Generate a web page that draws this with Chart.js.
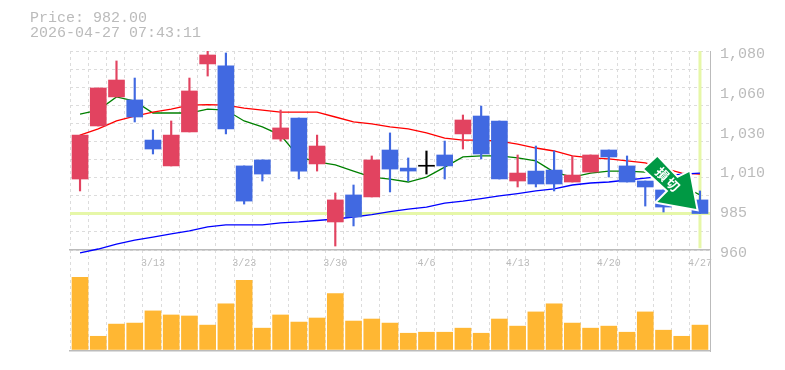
<!DOCTYPE html>
<html>
<head>
<meta charset="utf-8">
<script src="https://cdn.jsdelivr.net/npm/chart.js@4"></script>
<style>
  body { margin: 0; background: #fff; }
  #wrap { position: relative; width: 785px; height: 370px; overflow: hidden; }
  #wrap canvas { position: absolute; left: 0; }
  #head { position: absolute; left: 30px; top: 11px; font: 15px/15px "Liberation Mono", monospace; color: #bbb; white-space: pre; }
</style>
</head>
<body>
<div id="wrap">
  <canvas id="vol" width="785" height="102" style="top:250px"></canvas>
  <canvas id="price" width="785" height="276" style="top:0"></canvas>
  <div id="head">Price: 982.00
2026-04-27 07:43:11</div>
</div>
<script>
const opens  = [1002.8,1034.8,1052.3,1050.5,1026.3,1010.7,1031.2,1072.2,1071,1010.7,1014.3,1026.9,1039.6,1011.9,976.9,993.2,992,1020.3,1009.4,1010.5,1017.3,1030,1040.8,1037.8,1001.6,1007.6,1008.2,1001,1007,1020.3,1010.7,1001.6,996.2,1000.4,990.2];
const closes = [1029.3,1057.7,1062.5,1040.2,1020.9,1029.3,1055.9,1077.6,1033,989.5,1005.8,1033.6,1007.6,1022.7,990.2,979.9,1014.3,1008.8,1007.6,1010.5,1010.7,1038.4,1017.9,1002.8,1006.4,999.8,999.8,1005.2,1017.3,1016.1,1001,998,985.9,992.6,982];
const highs  = [1029.3,1057.7,1074,1063.7,1032.4,1037.8,1063.7,1080.6,1078.8,1010.7,1014.3,1044.4,1039.6,1029.3,994.4,999.2,1016.7,1030.6,1015.5,1019.7,1025.7,1041.4,1046.8,1037.8,1017.3,1022.7,1019.7,1016.7,1017.3,1020.3,1016.7,1001.6,996.2,1003,995.6];
const lows   = [995.6,1034.8,1052.3,1037.2,1017.9,1010.7,1031.2,1064.9,1030,987.7,1001.6,1025.7,1002.8,1007.6,962.4,974.5,992,995,1001.6,1005.8,1002.8,1020.9,1014.9,1002.8,998,998,995.6,1001,1007,1004,1001,986.5,982.9,990,982];

const maShort = [1042,1044.4,1052.3,1049.8,1042.6,1042.6,1042.6,1045,1044.4,1037.8,1034.2,1029.3,1016.1,1013.1,1011.3,1007.6,1004,1002.8,1001,1004,1010,1016.1,1016.7,1016.7,1015.5,1013.7,1007,1004,1006.4,1007.6,1007.6,1007,1005.2,998.6,993.2];
const maMid   = [1029.3,1033,1037.8,1040.8,1043.2,1045,1047.4,1047.7,1047.4,1045.6,1044.4,1043.2,1043.2,1043.2,1040.2,1037.2,1036,1034.2,1033,1030.6,1027.5,1026.3,1026.3,1025.7,1023.9,1021.5,1019.7,1016.7,1015.5,1014.9,1013.7,1012.5,1009.4,1006.4,1005.8];
const maLong  = [958.2,960.6,963.6,966,967.8,969.7,971.5,973.9,975.1,975.1,975.1,976.3,976.9,977.8,978.7,979.9,981.3,983.1,984.7,985.9,988.3,989.5,991,992.6,994,995.6,996.8,999.2,1000.4,1001,1002.2,1003.4,1004.6,1005.8,1006.4];

const volumes = [71,13,25,26,38,34,33,24,45,68,21,34,27,31,55,28,30,26,16,17,17,21,16,30,23,37,45,26,21,23,17,37,19,13,24];

const priceTicks  = [1080,1056,1032,1008,984,960];
const priceLabels = ["1,080","1,060","1,030","1,010","985","960"];
const dateTicks   = [4,9,14,19,24,29,34];
const dateLabels  = ["3/13","3/23","3/30","4/6","4/13","4/20","4/27"];

const lastPrice = 982;
const arrowText = ["損","切"];

const X_MIN = -0.55, X_MAX = 34.55, Y_MIN = 960, Y_MAX = 1080;
const LABEL_SHIFT = 1.8; // price labels sit a little under their value
const GRID = "#dcdcdc", AXIS = "#bbbbbb", TXT = "#bbbbbb";
const UP = "#e24360", DOWN = "#4169e1", DOJI = "#000000";

const idx = opens.map((v, i) => i);
const colors = opens.map((o, i) => closes[i] > o ? UP : closes[i] < o ? DOWN : DOJI);
const asLine = (arr) => arr.map((v, i) => ({ x: i, y: v }));

function xGridTicks(scale) {
  const t = [];
  for (let v = X_MIN; v < X_MAX - 1; v += 1) t.push({ value: v });
  scale.ticks = t;
}

function lineSet(data, color, width, order) {
  return { type: "line", data: data, borderColor: color, borderWidth: width, pointRadius: 0, tension: 0, order: order, clip: false };
}

// green sell arrow, outline is relative to its tip
const arrowShape = [[-52,-40],[-39,-52],[-19,-31],[-7,-37],[0,0],[-39,-7],[-28,-18]];
const arrowPlugin = {
  id: "arrow",
  afterDatasetsDraw(chart) {
    const tx = chart.scales.x.getPixelForValue(33.8);
    const ty = chart.scales.y.getPixelForValue(984.7);
    const ctx = chart.ctx;
    ctx.save();
    ctx.beginPath();
    arrowShape.forEach((p, i) => i ? ctx.lineTo(tx + p[0], ty + p[1]) : ctx.moveTo(tx + p[0], ty + p[1]));
    ctx.closePath();
    ctx.lineJoin = "miter";
    ctx.lineWidth = 4;
    ctx.strokeStyle = "#fff";
    ctx.stroke();
    ctx.fillStyle = "#009944";
    ctx.fill();
    ctx.fillStyle = "#fff";
    ctx.font = "bold 13px 'Noto Sans CJK JP'";
    ctx.textAlign = "center";
    ctx.textBaseline = "middle";
    arrowText.forEach((c, i) => {
      ctx.save();
      ctx.translate(tx - 34 + i * 10.5, ty - 35 + i * 10.5);
      ctx.rotate(Math.PI / 4);
      ctx.fillText(c, 0, 0);
      ctx.restore();
    });
    ctx.restore();
  }
};

new Chart("price", {
  type: "bar",
  plugins: [arrowPlugin],
  data: {
    datasets: [
      { data: idx.map(i => ({ x: i, y: [opens[i], closes[i]] })), backgroundColor: colors, barThickness: 16, grouped: false, minBarLength: 1, order: 1 },
      { data: idx.map(i => ({ x: i, y: [lows[i], highs[i]] })), backgroundColor: colors, barThickness: 1.5, grouped: false, order: 2 },
      lineSet(asLine(maLong), "#0000ff", 1.3, 3),
      lineSet(asLine(maMid), "#ff0000", 1.3, 4),
      lineSet(asLine(maShort), "#008000", 1.3, 5),
      lineSet([{ x: X_MIN, y: lastPrice }, { x: X_MAX, y: lastPrice }], "#e6f7a8", 3, 6),
      lineSet([{ x: 34, y: Y_MAX }, { x: 34, y: Y_MIN + 1 }], "#e6f7a8", 3, 7)
    ]
  },
  options: {
    responsive: false,
    animation: false,
    layout: { padding: { left: 70, top: 51, right: 0, bottom: 0 } },
    plugins: { legend: { display: false }, tooltip: { enabled: false } },
    scales: {
      x: {
        type: "linear", min: X_MIN, max: X_MAX, offset: false, position: "bottom",
        afterBuildTicks: xGridTicks,
        afterFit(s) { s.height = 0; },
        ticks: { display: false },
        grid: { color: GRID, drawTicks: false, offset: false },
        border: { color: AXIS, width: 1.5, dash: [3, 3] }
      },
      xl: {
        type: "linear", min: X_MIN, max: X_MAX, offset: false, position: "bottom",
        afterBuildTicks(s) { s.ticks = dateTicks.map(v => ({ value: v })); },
        afterFit(s) { s.height = 26; },
        ticks: {
          autoSkip: false, maxRotation: 0, padding: 7, color: TXT,
          font: { family: "'Liberation Mono'", size: 10 },
          callback: (v) => dateLabels[dateTicks.indexOf(v)]
        },
        grid: { display: false, drawTicks: false },
        border: { display: false }
      },
      y: {
        type: "linear", min: Y_MIN, max: Y_MAX, position: "right",
        afterBuildTicks(s) {
          const t = [];
          for (let k = 0; k <= 11; k++) t.push({ value: Y_MIN + k * (Y_MAX - Y_MIN) / 11 });
          s.ticks = t;
        },
        afterFit(s) { s.width = 0; },
        ticks: { display: false },
        grid: { color: GRID, drawTicks: false },
        border: { color: AXIS, width: 1, dash: [3, 3] }
      },
      yl: {
        type: "linear", min: Y_MIN + LABEL_SHIFT, max: Y_MAX + LABEL_SHIFT, position: "right",
        afterBuildTicks(s) { s.ticks = priceTicks.map(v => ({ value: v })); },
        afterFit(s) { s.width = 75; },
        ticks: {
          padding: 10, color: TXT,
          font: { family: "'Liberation Mono'", size: 15 },
          callback: (v) => priceLabels[priceTicks.indexOf(v)]
        },
        grid: { display: false, drawTicks: false },
        border: { display: false }
      }
    }
  }
});

new Chart("vol", {
  type: "bar",
  data: {
    datasets: [{ data: idx.map(i => ({ x: i, y: volumes[i] })), backgroundColor: "#ffb733", barThickness: 16 }]
  },
  options: {
    responsive: false,
    animation: false,
    layout: { padding: { left: 70, right: 75, top: 0, bottom: 1 } },
    plugins: { legend: { display: false }, tooltip: { enabled: false } },
    scales: {
      x: {
        type: "linear", min: X_MIN, max: X_MAX, offset: false,
        afterBuildTicks: xGridTicks,
        afterFit(s) { s.height = 0; },
        ticks: { display: false },
        grid: { color: GRID, drawTicks: false, offset: false },
        border: { color: AXIS, width: 1.5, dash: [3, 3] }
      },
      y: {
        min: -1.5, max: 98, position: "right",
        afterFit(s) { s.width = 0; },
        ticks: { display: false },
        grid: { display: false },
        border: { color: AXIS, width: 1 }
      }
    }
  }
});
</script>
</body>
</html>
